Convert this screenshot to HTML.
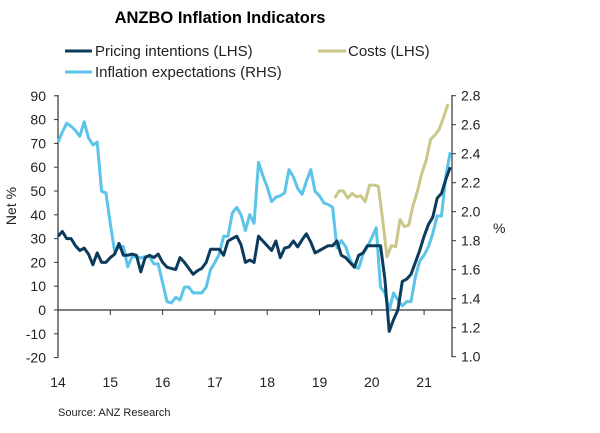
<!DOCTYPE html>
<html><head><meta charset="utf-8"><style>
body{margin:0;background:#fff;width:600px;height:428px;overflow:hidden;font-family:"Liberation Sans",sans-serif}
</style></head><body>
<svg id="c" width="600" height="428" xmlns="http://www.w3.org/2000/svg">
<text x="220" y="23" text-anchor="middle" font-size="16.5" font-weight="bold" fill="#000">ANZBO Inflation Indicators</text>
<g font-size="15" fill="#222">
<line x1="65" y1="51" x2="92" y2="51" stroke="#0d3b5c" stroke-width="3"/>
<text x="95" y="56">Pricing intentions (LHS)</text>
<line x1="318" y1="51" x2="346" y2="51" stroke="#cbc68a" stroke-width="3"/>
<text x="348" y="56">Costs (LHS)</text>
<line x1="65" y1="72" x2="92" y2="72" stroke="#5bc4e8" stroke-width="3"/>
<text x="95" y="77">Inflation expectations (RHS)</text>
</g>
<text transform="translate(16,206) rotate(-90)" text-anchor="middle" font-size="14" fill="#222">Net %</text>
<text x="493" y="233" font-size="14" fill="#222">%</text>
<text x="58" y="416" font-size="11" fill="#222">Source: ANZ Research</text>
<g id="axes"></g>
<g id="series"></g>
</svg>
<script>
const leftTicks=[-20,-10,0,10,20,30,40,50,60,70,80,90];
const rightTicks=[1.0,1.2,1.4,1.6,1.8,2.0,2.2,2.4,2.6,2.8];
const yearTicks=[14,15,16,17,18,19,20,21];
const pricing=[31,33,30,30,27,25,26,23.5,19,24,20,20,22,23.5,28,23,23,23.5,23,16,22,23,22,23.5,20,18,17.5,17,22,20,17.5,15,16.5,17.5,20,25.5,25.5,25.5,23,29,30,31,27.5,20,21,20,31,29,27,25,29,22,26,26.5,29,26.5,29.5,32,28.5,24,
25,26,27,27,29,23,22,20,18,23,24,27,27,27,27,13,-9,-4,0,12,13,15,20,25,31,36,39,47,49,55,60];
const pricingStart=14;
const expectations=[2.48,2.55,2.61,2.59,2.56,2.52,2.62,2.51,2.46,2.48,2.14,2.13,1.92,1.72,1.76,1.76,1.62,1.69,1.69,1.68,1.69,1.69,1.64,1.64,1.51,1.38,1.37,1.41,1.39,1.48,1.48,1.44,1.44,1.44,1.48,1.60,1.65,1.71,1.83,1.83,1.99,2.03,1.98,1.87,1.98,1.92,2.34,2.25,2.17,2.07,2.10,2.11,2.13,2.29,2.24,2.16,2.12,2.21,2.29,2.14,
2.11,2.06,2.05,2.03,1.75,1.80,1.76,1.67,1.62,1.61,1.71,1.76,1.82,1.89,1.48,1.44,1.32,1.44,1.39,1.35,1.38,1.38,1.55,1.66,1.70,1.76,1.85,1.97,1.97,2.25,2.41];
const expectationsStart=14;
const costs=[47,50,50,47,49,47.6,48,45.5,52.5,52.5,52,38,22.4,27,26.6,38,35,35.7,44,50,57.4,63,71.7,73.5,76,81,86.5];
const costsStart=19.29;

const NS="http://www.w3.org/2000/svg";
const xS=y=>58+(y-14)*52.3;
const yL=v=>310-v*2.38;
const yR=v=>356.7-(v-1.0)*145;
const ax=document.getElementById('axes'),se=document.getElementById('series');
function mk(tag,attrs,parent){const e=document.createElementNS(NS,tag);for(const k in attrs)e.setAttribute(k,attrs[k]);parent.appendChild(e);return e;}
const col="#333";
let e=mk('line',{x1:58,y1:95,x2:58,y2:357.7,stroke:col,'stroke-width':1.2},ax);


e=mk('line',{x1:452,y1:95,x2:452,y2:357,stroke:col,'stroke-width':1.2},ax);


e=mk('line',{x1:58,y1:yL(0),x2:452,y2:yL(0),stroke:col,'stroke-width':1.2},ax);


leftTicks.forEach(v=>{
 const y=yL(v);
 const t=mk('line',{x1:54,y1:y,x2:58,y2:y,stroke:col},ax);
 
 
 const l=mk('text',{x:46,y:y+5,'text-anchor':'end','font-size':14,fill:'#222'},ax);l.textContent=v;
 
 
});
rightTicks.forEach(v=>{
 const y=yR(v);
 const t=mk('line',{x1:452,y1:y,x2:456,y2:y,stroke:col},ax);
 
 
 const l=mk('text',{x:461,y:y+5,'font-size':14,fill:'#222'},ax);l.textContent=v.toFixed(1);
 
 
});
yearTicks.forEach(v=>{
 const x=xS(v);
 const t=mk('line',{x1:x,y1:yL(0),x2:x,y2:yL(0)+5,stroke:col},ax);
 
 
 const l=mk('text',{x:x,y:387,'text-anchor':'middle','font-size':14,fill:'#222'},ax);l.textContent=v;
 
 
});
function line(vals,start,yf,color,name){
 const pts=vals.map((v,i)=>xS(start+i/12).toFixed(1)+','+yf(v).toFixed(1)).join(' ');
 const p=mk('polyline',{points:pts,fill:'none',stroke:color,'stroke-width':3,'stroke-linejoin':'round'},se);
 
 
}
line(costs,costsStart,yL,'#cbc68a','costs-line');
line(expectations,expectationsStart,yR,'#5bc4e8','inflation-expectations-line');
line(pricing,pricingStart,yL,'#0d3b5c','pricing-intentions-line');
</script>
</body></html>
